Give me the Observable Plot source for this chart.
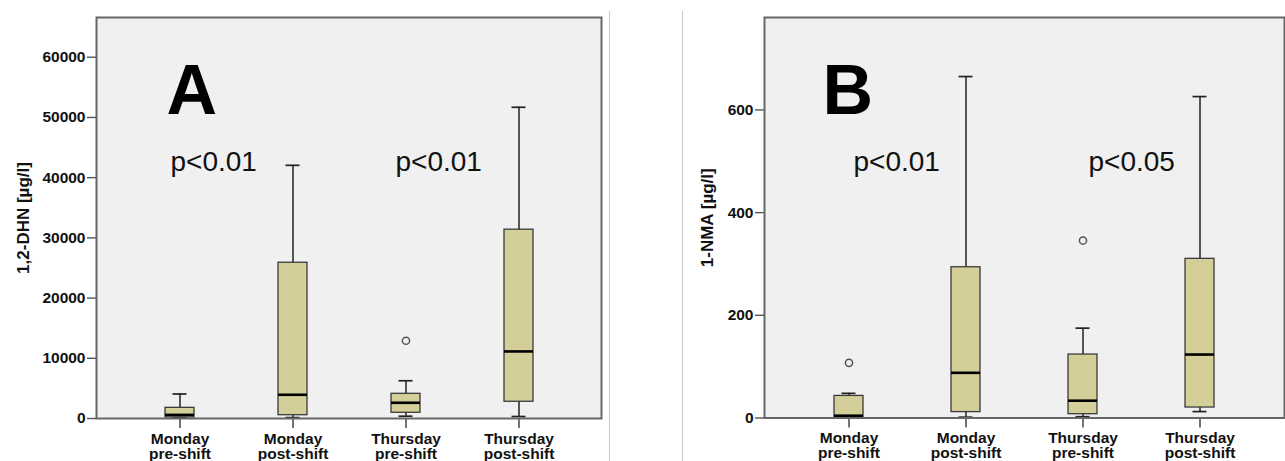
<!DOCTYPE html>
<html>
<head>
<meta charset="utf-8">
<script src="https://cdn.jsdelivr.net/npm/d3@7"></script>
<script src="https://cdn.jsdelivr.net/npm/@observablehq/plot@0.6"></script>
<style>
  html, body { margin: 0; padding: 0; background: #fff; }
  #wrap { position: relative; width: 1285px; height: 461px; overflow: hidden; }
  .panel { position: absolute; top: 0; }
  .sep { position: absolute; top: 11px; width: 1px; height: 450px; background: #c8c8c8; }
</style>
</head>
<body>
<div id="wrap">
  <div class="panel" id="pa" style="left:0px"></div>
  <div class="panel" id="pb" style="left:640px"></div>
  <div class="sep" style="left:609px"></div>
  <div class="sep" style="left:682px"></div>
</div>
<script>
// ---- data ----
const categories = ["Monday\npre-shift", "Monday\npost-shift", "Thursday\npre-shift", "Thursday\npost-shift"];

// Panel A: 1,2-DHN [µg/l]
const dhnMin    = [100, 150, 380, 330];
const dhnQ1     = [180, 550, 950, 2780];
const dhnMedian = [600, 3940, 2610, 11140];
const dhnQ3     = [1770, 25870, 4100, 31360];
const dhnMax    = [4070, 42050, 6270, 51690];
const dhnOutlierCats   = ["Thursday\npre-shift"];
const dhnOutlierValues = [12910];
const dhnTicks = [0, 10000, 20000, 30000, 40000, 50000, 60000];
const dhnPvalues = ["p<0.01", "p<0.01"];

// Panel B: 1-NMA [µg/l]
const nmaMin    = [0.5, 1.6, 2.5, 12.5];
const nmaQ1     = [0.8, 11.5, 7.4, 20.4];
const nmaMedian = [4.5, 88, 33.7, 123.6];
const nmaQ3     = [43, 293.6, 123.6, 310];
const nmaMax    = [48, 665, 175, 626];
const nmaOutlierCats   = ["Monday\npre-shift", "Thursday\npre-shift"];
const nmaOutlierValues = [107.5, 345.6];
const nmaTicks = [0, 200, 400, 600];
const nmaPvalues = ["p<0.01", "p<0.05"];

const FONT = "'Liberation Sans', Arial, Helvetica, sans-serif";
const BOX_FILL = "#d4cf99";

function makePanel(opts) {
  const rows = categories.map((c, i) => ({
    cat: c, min: opts.min[i], q1: opts.q1[i], med: opts.median[i], q3: opts.q3[i], max: opts.max[i]
  }));
  const outliers = opts.outCats.map((c, i) => ({cat: c, v: opts.outVals[i]}));
  return Plot.plot({
    width: opts.width,
    height: 461,
    marginLeft: opts.marginLeft,
    marginRight: opts.marginRight,
    marginTop: 17,
    marginBottom: opts.marginBottom,
    style: {fontFamily: FONT, fontSize: "15.5px", fontWeight: "bold", color: "#111", background: "transparent", overflow: "hidden"},
    x: {type: "band", domain: categories, paddingInner: opts.pi, paddingOuter: opts.po, label: null},
    y: {domain: opts.domain, label: null},
    marks: [
      Plot.frame({fill: "#f0f0f0"}),
      Plot.axisY({ticks: opts.ticks, tickFormat: d3.format("d"), tickSize: 9, tickPadding: 2, stroke: "#555", fill: "#111", strokeWidth: 1.4, label: null}),
      Plot.axisX({tickSize: 10, tickPadding: 5, lineHeight: 0.95, stroke: "#444", fill: "#111", strokeWidth: 1.5, label: null}),
      Plot.ruleX(rows, {x: "cat", y1: "min", y2: "max", stroke: "#222", strokeWidth: 1.5}),
      Plot.tickY(rows, {x: "cat", y: "max", stroke: "#222", strokeWidth: 1.7, insetLeft: 7.5, insetRight: 7.5}),
      Plot.tickY(rows, {x: "cat", y: "min", stroke: "#222", strokeWidth: 1.7, insetLeft: 7.5, insetRight: 7.5}),
      Plot.barY(rows, {x: "cat", y1: "q1", y2: "q3", fill: BOX_FILL, stroke: "#3a3a3a", strokeWidth: 1.3}),
      Plot.tickY(rows, {x: "cat", y: "med", stroke: "#000", strokeWidth: 2.6}),
      Plot.dot(outliers, {x: "cat", y: "v", r: 3.6, stroke: "#555", strokeWidth: 1.5, fill: "none"}),
      Plot.text([opts.letter], {frameAnchor: "top-left", dx: opts.letterDx, dy: 96.3, textAnchor: "start", lineAnchor: "bottom", fontSize: 70, fontWeight: "bold", fill: "#000"}),
      Plot.text([opts.pvals[0]], {frameAnchor: "top-left", dx: opts.p1Dx, dy: 153, textAnchor: "start", lineAnchor: "bottom", fontSize: 28, fontWeight: "normal", fill: "#111"}),
      Plot.text([opts.pvals[1]], {frameAnchor: "top-left", dx: opts.p2Dx, dy: 153, textAnchor: "start", lineAnchor: "bottom", fontSize: 28, fontWeight: "normal", fill: "#111"}),
      Plot.text([opts.ylabel], {frameAnchor: "left", dx: opts.ylabelDx, rotate: -90, textAnchor: "middle", lineAnchor: "middle", fontSize: 17, fontWeight: "bold", fill: "#111"}),
      Plot.frame({stroke: "#666", strokeWidth: 2})
    ]
  });
}

document.getElementById("pa").appendChild(makePanel({
  width: 640, marginLeft: 96, marginRight: 39, marginBottom: 43,
  pi: 0.746, po: 0.592, domain: [0, 66600], ticks: dhnTicks,
  min: dhnMin, q1: dhnQ1, median: dhnMedian, q3: dhnQ3, max: dhnMax,
  outCats: dhnOutlierCats, outVals: dhnOutlierValues,
  letter: "A", letterDx: 70, pvals: dhnPvalues, p1Dx: 74, p2Dx: 299,
  ylabel: "1,2-DHN [µg/l]", ylabelDx: -73
}));

document.getElementById("pb").appendChild(makePanel({
  width: 645, marginLeft: 124, marginRight: 1, marginBottom: 43.5,
  pi: 0.75, po: 0.594, domain: [0, 780], ticks: nmaTicks,
  min: nmaMin, q1: nmaQ1, median: nmaMedian, q3: nmaQ3, max: nmaMax,
  outCats: nmaOutlierCats, outVals: nmaOutlierValues,
  letter: "B", letterDx: 58, pvals: nmaPvalues, p1Dx: 89, p2Dx: 324,
  ylabel: "1-NMA [µg/l]", ylabelDx: -57
}));
</script>
</body>
</html>
